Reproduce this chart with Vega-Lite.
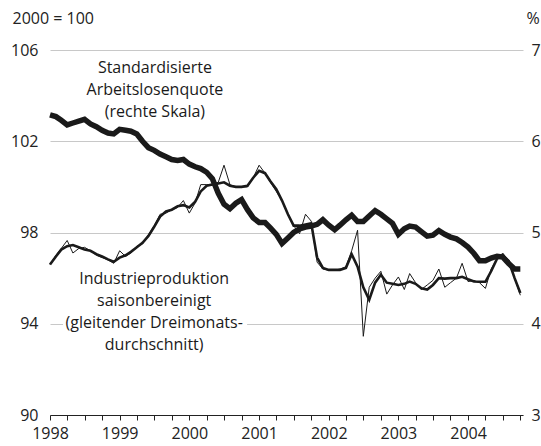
{
  "$schema": "https://vega.github.io/schema/vega-lite/v6.json",
  "width": 473,
  "height": 365,
  "autosize": {"type": "none"},
  "padding": {"left": 50, "top": 50, "right": 18, "bottom": 31},
  "background": "white",
  "config": {
    "view": {"stroke": null},
    "font": "Open Sans",
    "axis": {"labelFont": "Open Sans", "titleFont": "Open Sans"}
  },
  "datasets": {
    "series": [
      {"date": "1998-01-01", "ip": 96.6, "ip3": 96.6, "ur": 6.29},
      {"date": "1998-02-01", "ip": 97.0, "ip3": 96.95, "ur": 6.27},
      {"date": "1998-03-01", "ip": 97.3, "ip3": 97.25, "ur": 6.23},
      {"date": "1998-04-01", "ip": 97.65, "ip3": 97.4, "ur": 6.18},
      {"date": "1998-05-01", "ip": 97.1, "ip3": 97.45, "ur": 6.2},
      {"date": "1998-06-01", "ip": 97.3, "ip3": 97.35, "ur": 6.22},
      {"date": "1998-07-01", "ip": 97.35, "ip3": 97.25, "ur": 6.24},
      {"date": "1998-08-01", "ip": 97.2, "ip3": 97.2, "ur": 6.19},
      {"date": "1998-09-01", "ip": 97.0, "ip3": 97.05, "ur": 6.16},
      {"date": "1998-10-01", "ip": 96.9, "ip3": 96.95, "ur": 6.12},
      {"date": "1998-11-01", "ip": 96.8, "ip3": 96.82, "ur": 6.09},
      {"date": "1998-12-01", "ip": 96.65, "ip3": 96.72, "ur": 6.08},
      {"date": "1999-01-01", "ip": 97.2, "ip3": 96.9, "ur": 6.13},
      {"date": "1999-02-01", "ip": 96.95, "ip3": 97.0, "ur": 6.12},
      {"date": "1999-03-01", "ip": 97.1, "ip3": 97.15, "ur": 6.11},
      {"date": "1999-04-01", "ip": 97.4, "ip3": 97.35, "ur": 6.08},
      {"date": "1999-05-01", "ip": 97.5, "ip3": 97.55, "ur": 6.0},
      {"date": "1999-06-01", "ip": 97.9, "ip3": 97.85, "ur": 5.93},
      {"date": "1999-07-01", "ip": 98.3, "ip3": 98.25, "ur": 5.9},
      {"date": "1999-08-01", "ip": 98.8, "ip3": 98.7, "ur": 5.86},
      {"date": "1999-09-01", "ip": 98.85, "ip3": 98.92, "ur": 5.83},
      {"date": "1999-10-01", "ip": 99.0, "ip3": 99.0, "ur": 5.8},
      {"date": "1999-11-01", "ip": 99.1, "ip3": 99.15, "ur": 5.79},
      {"date": "1999-12-01", "ip": 99.4, "ip3": 99.2, "ur": 5.8},
      {"date": "2000-01-01", "ip": 98.85, "ip3": 99.1, "ur": 5.75},
      {"date": "2000-02-01", "ip": 99.3, "ip3": 99.35, "ur": 5.72},
      {"date": "2000-03-01", "ip": 100.1, "ip3": 99.8, "ur": 5.7},
      {"date": "2000-04-01", "ip": 100.1, "ip3": 100.05, "ur": 5.66},
      {"date": "2000-05-01", "ip": 100.1, "ip3": 100.1, "ur": 5.59},
      {"date": "2000-06-01", "ip": 100.2, "ip3": 100.15, "ur": 5.43},
      {"date": "2000-07-01", "ip": 100.95, "ip3": 100.2, "ur": 5.31},
      {"date": "2000-08-01", "ip": 100.1, "ip3": 100.05, "ur": 5.26},
      {"date": "2000-09-01", "ip": 100.0, "ip3": 100.0, "ur": 5.32},
      {"date": "2000-10-01", "ip": 100.0, "ip3": 100.0, "ur": 5.36},
      {"date": "2000-11-01", "ip": 100.0, "ip3": 100.05, "ur": 5.25},
      {"date": "2000-12-01", "ip": 100.4, "ip3": 100.4, "ur": 5.16},
      {"date": "2001-01-01", "ip": 100.95, "ip3": 100.7, "ur": 5.11},
      {"date": "2001-02-01", "ip": 100.6, "ip3": 100.6, "ur": 5.11},
      {"date": "2001-03-01", "ip": 100.2, "ip3": 100.25, "ur": 5.05},
      {"date": "2001-04-01", "ip": 99.8, "ip3": 99.9, "ur": 4.98},
      {"date": "2001-05-01", "ip": 99.4, "ip3": 99.4, "ur": 4.88},
      {"date": "2001-06-01", "ip": 98.8, "ip3": 98.8, "ur": 4.94},
      {"date": "2001-07-01", "ip": 98.3, "ip3": 98.3, "ur": 5.0},
      {"date": "2001-08-01", "ip": 97.95, "ip3": 98.3, "ur": 5.04},
      {"date": "2001-09-01", "ip": 98.8, "ip3": 98.35, "ur": 5.06},
      {"date": "2001-10-01", "ip": 98.5, "ip3": 98.4, "ur": 5.07},
      {"date": "2001-11-01", "ip": 96.7, "ip3": 96.9, "ur": 5.09},
      {"date": "2001-12-01", "ip": 96.4, "ip3": 96.45, "ur": 5.14},
      {"date": "2002-01-01", "ip": 96.35, "ip3": 96.36, "ur": 5.08},
      {"date": "2002-02-01", "ip": 96.35, "ip3": 96.36, "ur": 5.03},
      {"date": "2002-03-01", "ip": 96.4, "ip3": 96.36, "ur": 5.08},
      {"date": "2002-04-01", "ip": 96.5, "ip3": 96.45, "ur": 5.14},
      {"date": "2002-05-01", "ip": 97.2, "ip3": 97.05, "ur": 5.19},
      {"date": "2002-06-01", "ip": 98.1, "ip3": 96.5, "ur": 5.12},
      {"date": "2002-07-01", "ip": 93.45, "ip3": 95.6, "ur": 5.12},
      {"date": "2002-08-01", "ip": 95.6, "ip3": 95.05, "ur": 5.18},
      {"date": "2002-09-01", "ip": 96.0, "ip3": 95.8, "ur": 5.24},
      {"date": "2002-10-01", "ip": 96.3, "ip3": 96.15, "ur": 5.2},
      {"date": "2002-11-01", "ip": 95.3, "ip3": 95.8, "ur": 5.15},
      {"date": "2002-12-01", "ip": 95.7, "ip3": 95.75, "ur": 5.1},
      {"date": "2003-01-01", "ip": 96.05, "ip3": 95.7, "ur": 4.98},
      {"date": "2003-02-01", "ip": 95.5, "ip3": 95.75, "ur": 5.04},
      {"date": "2003-03-01", "ip": 96.2, "ip3": 95.85, "ur": 5.07},
      {"date": "2003-04-01", "ip": 95.8, "ip3": 95.75, "ur": 5.06},
      {"date": "2003-05-01", "ip": 95.5, "ip3": 95.55, "ur": 5.01},
      {"date": "2003-06-01", "ip": 95.7, "ip3": 95.5, "ur": 4.96},
      {"date": "2003-07-01", "ip": 95.9, "ip3": 95.7, "ur": 4.97},
      {"date": "2003-08-01", "ip": 96.4, "ip3": 96.0, "ur": 5.02},
      {"date": "2003-09-01", "ip": 95.6, "ip3": 95.98, "ur": 4.98},
      {"date": "2003-10-01", "ip": 95.8, "ip3": 96.0, "ur": 4.95},
      {"date": "2003-11-01", "ip": 96.0, "ip3": 96.0, "ur": 4.93},
      {"date": "2003-12-01", "ip": 96.65, "ip3": 96.06, "ur": 4.89},
      {"date": "2004-01-01", "ip": 95.85, "ip3": 95.95, "ur": 4.84},
      {"date": "2004-02-01", "ip": 95.9, "ip3": 95.85, "ur": 4.77},
      {"date": "2004-03-01", "ip": 95.8, "ip3": 95.84, "ur": 4.69},
      {"date": "2004-04-01", "ip": 95.55, "ip3": 95.84, "ur": 4.69},
      {"date": "2004-05-01", "ip": 96.4, "ip3": 96.3, "ur": 4.72},
      {"date": "2004-06-01", "ip": 96.85, "ip3": 96.85, "ur": 4.74},
      {"date": "2004-07-01", "ip": 97.1, "ip3": 97.0, "ur": 4.73},
      {"date": "2004-08-01", "ip": 96.7, "ip3": 96.75, "ur": 4.66},
      {"date": "2004-09-01", "ip": 96.0, "ip3": 96.0, "ur": 4.6},
      {"date": "2004-10-01", "ip": 95.25, "ip3": 95.35, "ur": 4.6}
    ],
    "labels": [
      {"date": "1999-07-05", "value": 105.2, "label": "Standardisierte|Arbeitslosenquote|(rechte Skala)"},
      {"date": "1999-07-01", "value": 95.96, "label": "Industrieproduktion|saisonbereinigt|(gleitender Dreimonats-|durchschnitt)"}
    ],
    "box": [
      {"date": "1998-03-10", "date2": "2000-10-30", "value": 96.35, "value2": 92.6}
    ]
  },
  "data": {"name": "series"},
  "encoding": {
    "x": {
      "field": "date",
      "type": "temporal",
      "scale": {
        "type": "utc",
        "domain": [
          {"year": 1998, "month": 1, "date": 1, "utc": true},
          {"year": 2004, "month": 10, "date": 15, "utc": true}
        ]
      },
      "axis": {
        "title": null,
        "orient": "bottom",
        "grid": false,
        "domain": true,
        "domainColor": "#222222",
        "domainWidth": 1,
        "ticks": true,
        "tickColor": "#222222",
        "tickSize": 5,
        "tickCount": {"interval": "month", "step": 3},
        "labelExpr": "utcmonth(datum.value) === 0 ? utcFormat(datum.value, '%Y') : ''",
        "labelFlush": false,
        "labelOverlap": false,
        "labelBound": false,
        "labelPadding": 5,
        "labelFontSize": 16,
        "labelColor": "#222222",
        "labelDx": 3
      }
    }
  },
  "layer": [
    {
      "layer": [
        {
          "data": {"name": "box"},
          "mark": {"type": "rect", "color": "white"},
          "encoding": {
            "x2": {"field": "date2"},
            "y": {"field": "value", "type": "quantitative", "scale": {"domain": [90, 106]}},
            "y2": {"field": "value2"}
          }
        },
        {
          "transform": [{"fold": ["ip", "ip3"], "as": ["series", "value"]}],
          "mark": {"type": "line", "color": "#1a1a1a", "strokeJoin": "miter"},
          "encoding": {
            "y": {
              "field": "value",
              "type": "quantitative",
              "scale": {"domain": [90, 106]},
              "axis": {
                "orient": "left",
                "values": [90, 94, 98, 102, 106],
                "grid": true,
                "gridColor": "#c8c8c8",
                "gridWidth": 1,
                "domain": false,
                "ticks": false,
                "labelPadding": 12,
                "labelFontSize": 16,
                "labelColor": "#222222",
                "title": "2000 = 100",
                "titleAngle": 0,
                "titleAlign": "left",
                "titleBaseline": "middle",
                "titleX": -38,
                "titleY": -32,
                "titleFontSize": 16,
                "titleFontWeight": "normal",
                "titleColor": "#222222"
              }
            },
            "detail": {"field": "series"},
            "strokeWidth": {
              "field": "series",
              "type": "nominal",
              "scale": {"domain": ["ip", "ip3"], "range": [1, 2.6]},
              "legend": null
            }
          }
        },
        {
          "data": {"name": "labels"},
          "mark": {
            "type": "text",
            "fontSize": 16,
            "lineHeight": 22,
            "lineBreak": "|",
            "align": "center",
            "baseline": "middle",
            "color": "#1a1a1a"
          },
          "encoding": {
            "y": {"field": "value", "type": "quantitative"},
            "text": {"field": "label"}
          }
        }
      ]
    },
    {
      "mark": {"type": "line", "color": "#1a1a1a", "strokeWidth": 5.5, "strokeJoin": "miter"},
      "encoding": {
        "y": {
          "field": "ur",
          "type": "quantitative",
          "scale": {"domain": [3, 7]},
          "axis": {
            "orient": "right",
            "values": [3, 4, 5, 6, 7],
            "grid": false,
            "domain": false,
            "ticks": false,
            "labelPadding": 8,
            "labelFontSize": 16,
            "labelColor": "#222222",
            "title": "%",
            "titleAngle": 0,
            "titleAlign": "left",
            "titleBaseline": "middle",
            "titleX": 3,
            "titleY": -32,
            "titleFontSize": 16,
            "titleFontWeight": "normal",
            "titleColor": "#222222"
          }
        }
      }
    }
  ],
  "resolve": {"scale": {"y": "independent"}}
}
